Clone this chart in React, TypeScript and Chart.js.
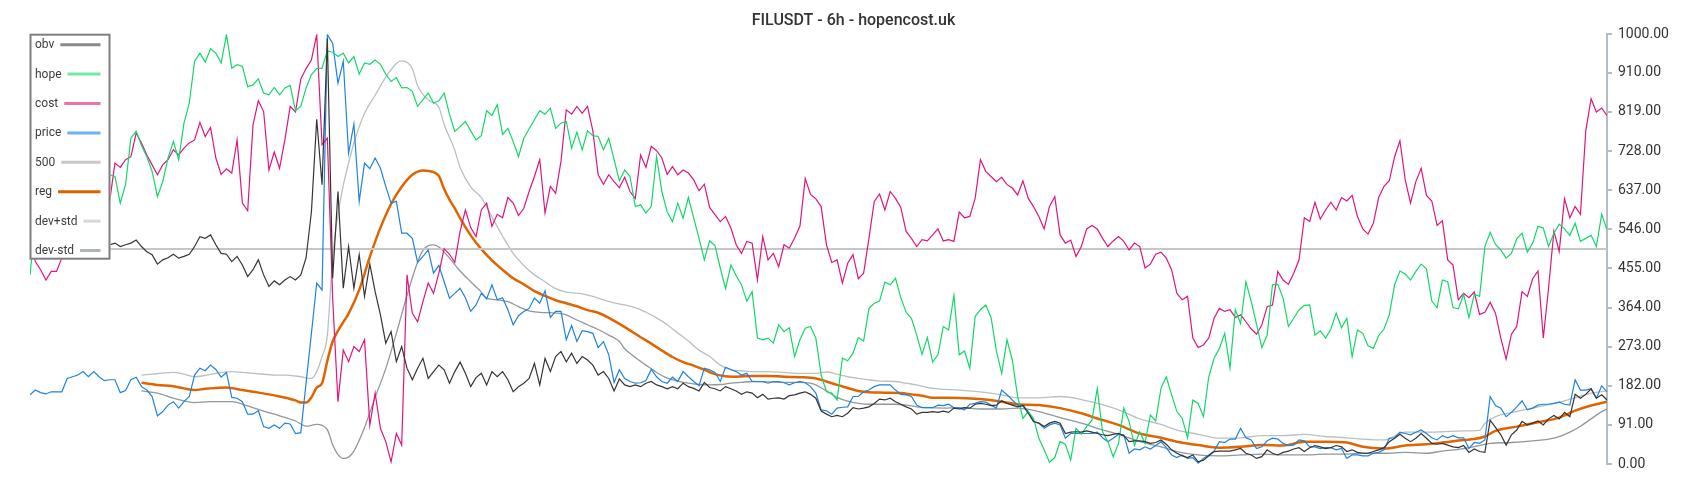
import React, { useEffect, useRef } from "react";
import { Chart, registerables } from "chart.js";

Chart.register(...registerables);

const TITLE = "FILUSDT - 6h - hopencost.uk";
const yTicks = [0, 91, 182, 273, 364, 455, 546, 637, 728, 819, 910, 1000];
const level500 = 500;

const obv = [
  505,498,510,515,508,520,512,505,518,522,
  515,508,512,520,515,510,514,506,510,514,
  521,506,494,487,465,475,480,488,479,483,
  488,506,529,525,533,510,490,488,471,483,
  463,436,452,475,440,413,426,417,428,436,
  428,440,480,587,802,650,990,432,634,409,
  506,409,487,390,465,401,347,281,308,238,
  273,223,196,223,246,199,215,230,219,188,
  215,237,211,180,201,211,184,215,203,215,
  196,168,180,188,199,234,184,246,215,250,
  262,238,258,234,250,242,230,207,215,199,
  170,198,184,180,184,180,188,
  192,184,180,175,180,175,188,180,176,170,
  190,178,175,170,180,175,170,162,168,165,
  154,162,151,153,154,151,159,161,165,168,
  162,153,123,116,110,113,110,118,131,128,
  130,133,141,151,149,153,145,139,133,128,
  116,120,120,122,120,123,120,130,128,131,130,
  139,141,139,136,137,147,141,137,133,136,
  118,99,95,87,95,99,95,71,74,75,
  74,77,74,71,68,66,69,71,66,52,
  54,54,52,48,50,56,46,33,25,19,
  15,21,5,9,19,29,30,30,30,33,
  36,25,21,13,17,
  33,25,21,27,30,35,38,29,38,43,
  40,36,38,43,40,29,33,27,25,25,
  29,33,38,52,60,69,60,52,60,71,
  60,48,46,48,44,40,38,43,27,35,
  29,27,102,85,68,44,68,79,99,91,
  95,100,91,105,113,105,120,110,162,153,
  162,175,153,161,149,
];

const hope = [
  440,560,620,600,650,640,610,660,700,690,
  650,680,700,660,690,673,669,607,650,758,
  774,741,715,681,622,657,712,750,708,793,
  840,937,956,935,966,956,933,999,921,929,
  925,878,882,896,863,859,876,859,875,881,
  822,832,875,906,920,921,961,958,948,956,
  933,948,907,933,930,940,930,907,890,899,
  875,876,867,832,847,863,840,845,863,814,
  774,785,797,775,754,764,822,811,836,767,
  781,750,715,758,780,801,822,814,828,781,
  793,797,735,772,731,775,764,762,731,758,
  708,659,684,669,599,603,584,599,715,
  634,587,564,607,572,620,572,525,475,519,
  508,456,408,463,438,417,379,401,293,289,
  293,281,324,308,317,250,289,316,320,293,
  207,168,165,149,246,240,258,294,286,362,
  374,379,423,417,432,387,353,339,300,255,
  294,237,254,320,312,392,254,
  263,223,343,359,370,341,263,211,289,242,
  157,106,122,106,60,33,4,15,52,46,
  9,83,69,87,102,176,75,52,17,48,
  130,99,43,75,48,114,100,176,203,161,
  122,106,61,149,141,110,203,246,269,304,
  223,359,327,424,378,325,271,
  300,417,418,386,320,339,359,369,370,300,
  310,293,314,351,317,339,250,312,304,275,
  269,299,314,347,417,449,442,428,448,465,
  454,379,364,428,424,364,361,395,341,395,
  390,506,539,511,498,479,490,524,537,493,
  514,553,549,506,537,558,547,532,560,518,
  525,532,506,581,545,
];

const cost = [
  520,471,452,428,448,448,480,540,590,570,
  620,600,640,610,580,611,700,690,708,715,
  770,747,719,696,673,696,708,731,719,735,
  747,754,795,762,783,712,674,687,677,754,
  607,589,789,845,820,684,726,688,754,832,
  819,896,920,940,999,743,758,386,145,265,
  238,273,262,289,91,165,83,52,5,71,
  44,440,351,331,378,421,397,444,501,488,
  469,541,591,550,529,591,607,553,581,573,
  620,607,578,595,634,669,708,584,646,630,
  704,824,814,832,816,832,775,673,651,673,
  657,643,667,634,618,719,690,
  739,729,712,674,692,673,684,677,661,636,
  651,597,580,564,576,549,510,490,518,514,
  428,529,475,490,459,510,502,526,553,664,
  627,617,599,510,469,475,421,467,487,431,
  444,525,611,628,591,634,618,597,541,525,
  506,522,519,533,547,519,522,518,586,573,576,
  618,708,681,669,657,667,650,642,626,659,
  618,599,576,547,599,622,533,514,521,483,
  506,547,555,547,525,506,519,529,518,498,
  514,506,456,465,488,493,479,452,397,382,
  390,293,271,277,293,339,362,355,359,341,
  347,331,314,302,324,
  366,370,448,428,418,444,475,573,564,609,
  570,591,609,591,620,612,625,576,547,535,
  560,620,646,659,715,752,661,607,657,688,
  625,612,555,566,475,463,382,397,387,400,
  348,353,376,351,293,244,302,320,401,390,
  431,449,293,410,542,494,617,573,599,581,
  775,850,819,828,811,
];

const price = [
  161,172,166,163,168,168,168,199,203,207,
  215,203,215,203,194,196,196,166,171,196,
  202,180,172,157,112,122,137,145,130,145,
  157,207,223,217,230,220,202,213,155,153,
  145,116,116,124,87,83,91,83,95,93,
  71,73,190,304,421,405,999,979,886,937,
  723,791,611,700,687,712,688,646,607,611,
  537,537,525,469,483,498,444,462,424,386,
  397,409,387,355,370,397,384,417,382,387,
  359,324,345,355,362,386,374,403,341,355,
  355,289,322,285,310,308,304,271,285,254,
  190,219,199,192,188,189,194,220,203,192,
  188,202,192,215,203,192,182,223,219,213,
  192,225,220,215,207,211,192,192,192,188,
  192,192,189,184,189,192,189,180,165,126,
  124,116,130,132,133,157,157,168,172,180,
  184,184,184,172,162,161,157,137,131,131,
  131,137,136,139,131,130,126,139,141,145,
  144,137,130,172,161,149,137,137,122,99,
  95,83,91,95,91,60,71,71,71,71,
  71,74,61,52,60,69,68,25,35,33,
  40,35,43,52,38,21,15,21,13,15,
  2,13,21,30,52,50,58,58,83,61,
  56,36,40,
  54,60,58,48,43,44,56,54,40,40,
  36,38,38,33,36,13,21,21,19,19,
  25,27,33,60,61,74,71,68,74,79,
  71,61,56,66,61,66,61,61,36,50,
  48,56,157,136,130,110,120,133,147,126,
  130,137,139,139,141,144,139,137,196,172,
  172,175,153,182,168,
];

const regX = [21,24,27,29,31,33,35,37,40,42,45,47,50,51,52,53,54,55,56,57,58,59,60,62,64,66,68,70,72,74,76,77,78,79,80,81,83,85,87,89,91,93,95,97,99,101,103,105,107,109,111,113,115,117,119,121,123,125,127,129,131,133,136,139,142,145,148,150,152,154,156,158,161,164,166,168,170,173,176,179,183,186,190,194,198,201,205,209,213,216,220,224,228,232,236,240,244,248,251,255,259,263,266,270,272,274,276,280,284,288,291,294,297];
const regY = [189,184,181,176,172,175,177,178,172,168,162,157,148,143,143,155,178,188,240,285,310,330,350,405,482,550,605,645,673,683,679,670,640,615,595,572,532,500,474,452,432,418,402,391,381,374,367,358,352,340,326,311,295,280,264,249,237,229,219,209,204,203,205,205,203,202,199,192,184,177,170,167,166,165,162,159,154,154,153,151,145,139,137,130,118,106,91,71,61,52,44,38,40,44,43,52,52,50,40,36,43,46,50,56,58,64,77,87,97,108,124,136,145];

const devPlusX = [21,24,27,29,31,33,35,38,40,43,46,48,51,53,54,55,56,57,58,59,60,61,63,65,67,69,70,72,73,75,77,78,80,81,83,85,87,89,91,93,95,97,99,101,104,106,108,110,112,114,116,118,120,122,124,126,128,130,132,134,136,139,142,145,148,150,152,154,156,158,160,163,165,167,169,171,175,179,183,186,190,194,198,201,205,209,213,216,220,224,228,232,236,240,244,248,251,255,259,263,266,270,273,274,276,280,284,288,291,294,297];
const devPlusY = [207,210,213,209,203,206,211,215,213,210,207,207,203,199,215,250,300,480,580,648,700,747,816,858,900,932,938,920,880,847,830,790,730,690,645,620,575,530,490,462,440,424,408,400,396,390,382,375,370,364,353,340,324,305,286,265,250,230,219,217,215,215,213,211,211,214,209,203,199,196,193,192,188,184,178,175,172,168,161,154,154,157,150,141,126,105,92,79,69,60,61,66,66,69,64,61,58,56,74,74,75,77,78,95,110,122,133,144,154,165,170];

const devMinusX = [21,24,27,29,31,34,38,41,44,47,50,52,54,55,56,57,58,59,60,61,62,63,65,67,69,71,73,74,75,76,77,79,81,83,85,86,88,90,92,94,96,98,100,101,103,105,107,109,111,112,114,116,118,120,122,124,126,128,130,132,134,136,139,142,145,147,148,150,152,154,156,158,163,165,167,169,172,175,179,183,186,190,194,198,201,205,209,213,216,220,224,228,232,236,240,244,248,251,255,259,263,266,270,273,275,279,283,287,290,292,294,296,297];
const devMinusY = [170,165,153,147,143,145,145,135,123,112,100,88,92,90,80,45,22,13,16,30,55,85,155,222,304,392,470,497,508,510,505,479,449,424,400,386,382,378,366,356,353,352,350,347,335,324,313,300,285,268,248,230,213,200,193,188,185,184,185,188,190,192,191,190,190,188,184,170,155,146,141,139,139,137,133,131,130,131,128,128,130,122,108,95,83,69,52,40,29,21,19,21,23,21,21,23,23,25,25,27,25,30,36,43,48,50,54,60,74,88,105,122,128];

const legendItems = [
  { label: "obv", color: "#8a8a8a", width: 3 },
  { label: "hope", color: "#74e8a4", width: 3 },
  { label: "cost", color: "#ee70ad", width: 3 },
  { label: "price", color: "#70b0ee", width: 3 },
  { label: "500", color: "#c8c8c8", width: 3 },
  { label: "reg", color: "#d96200", width: 3 },
  { label: "dev+std", color: "#d3d8db", width: 3 },
  { label: "dev-std", color: "#adb5ba", width: 3 },
];

const series = (vals: number[]) => vals.map((v, i) => ({ x: i, y: v }));
const pairs = (xs: number[], ys: number[]) => xs.map((x, k) => ({ x, y: ys[k] }));

const boxLegend = {
  id: "boxLegend",
  afterDatasetsDraw(chart: any) {
    const { ctx, chartArea } = chart;
    const x0 = chartArea.left;
    const y0 = chartArea.top;
    const w = 81;
    const h = 225;
    ctx.save();
    ctx.fillStyle = "#ffffff";
    ctx.fillRect(x0 - 0.5, y0, w, h);
    ctx.strokeStyle = "#7f7f7f";
    ctx.lineWidth = 2;
    ctx.strokeRect(x0 + 0.5, y0 + 0.5, w - 2, h - 1);
    ctx.font = "12px Roboto";
    ctx.textBaseline = "middle";
    ctx.textAlign = "left";
    legendItems.forEach((it, k) => {
      const y = y0 + 10.5 + k * 29.4;
      ctx.fillStyle = "#3c3c3c";
      ctx.fillText(it.label, x0 + 5, y + 0.5);
      const tw = ctx.measureText(it.label).width;
      ctx.strokeStyle = it.color;
      ctx.lineWidth = it.width;
      ctx.beginPath();
      ctx.moveTo(x0 + 5 + tw + 6, y);
      ctx.lineTo(x0 + 70.5, y);
      ctx.stroke();
    });
    ctx.restore();
  },
};

export default function App() {
  const ref = useRef<HTMLCanvasElement | null>(null);

  useEffect(() => {
    if (!ref.current) return;
    Chart.defaults.font.family = "Roboto";
    const N = price.length;
    const chart = new Chart(ref.current, {
      type: "line",
      data: {
        datasets: [
          { label: "obv", data: series(obv), borderColor: "#353535", borderWidth: 1.2, pointRadius: 0, tension: 0 },
          { label: "hope", data: series(hope), borderColor: "#12d868", borderWidth: 1.2, pointRadius: 0, tension: 0 },
          { label: "cost", data: series(cost), borderColor: "#e0157d", borderWidth: 1.2, pointRadius: 0, tension: 0 },
          { label: "price", data: series(price), borderColor: "#1f83e0", borderWidth: 1.2, pointRadius: 0, tension: 0 },
          { label: "500", data: [{ x: 0, y: level500 }, { x: N - 1, y: level500 }], borderColor: "#c6c6c6", borderWidth: 2, pointRadius: 0 },
          { label: "reg", data: pairs(regX, regY), borderColor: "#e06400", borderWidth: 2.5, pointRadius: 0, cubicInterpolationMode: "monotone" },
          { label: "dev+std", data: pairs(devPlusX, devPlusY), borderColor: "#b9c0c4", borderWidth: 1.3, pointRadius: 0, cubicInterpolationMode: "monotone" },
          { label: "dev-std", data: pairs(devMinusX, devMinusY), borderColor: "#8e989e", borderWidth: 1.3, pointRadius: 0, cubicInterpolationMode: "monotone" },
        ],
      },
      options: {
        animation: false,
        responsive: true,
        maintainAspectRatio: false,
        events: [],
        layout: { padding: { left: 22, right: 15, top: 0, bottom: 28 } },
        plugins: {
          legend: { display: false },
          tooltip: { enabled: false },
          title: {
            display: true,
            text: TITLE,
            color: "#333333",
            font: { size: 16, weight: "500", family: "Roboto" },
            padding: { top: 3, bottom: 4 },
          },
        },
        scales: {
          x: { type: "linear", display: false, min: 0, max: N - 1 },
          y: {
            position: "right",
            min: 0,
            max: 1000,
            afterBuildTicks: (s: any) => {
              s.ticks = yTicks.map((v) => ({ value: v }));
            },
            afterFit: (s: any) => {
              s.width = 70;
            },
            grid: { drawOnChartArea: false, drawTicks: true, tickLength: 5, color: "#b4bdc4", lineWidth: 2 },
            border: { display: true, color: "#b4bdc4", width: 2 },
            ticks: {
              autoSkip: false,
              padding: 6,
              color: "#333333",
              font: { size: 14, family: "Roboto" },
              callback: (v: any) => Number(v).toFixed(2),
            },
          },
        },
      },
      plugins: [boxLegend],
    } as any);
    return () => chart.destroy();
  }, []);

  return (
    <div style={{ position: "relative", width: "100%", height: "484px" }}>
      <canvas ref={ref} />
    </div>
  );
}
